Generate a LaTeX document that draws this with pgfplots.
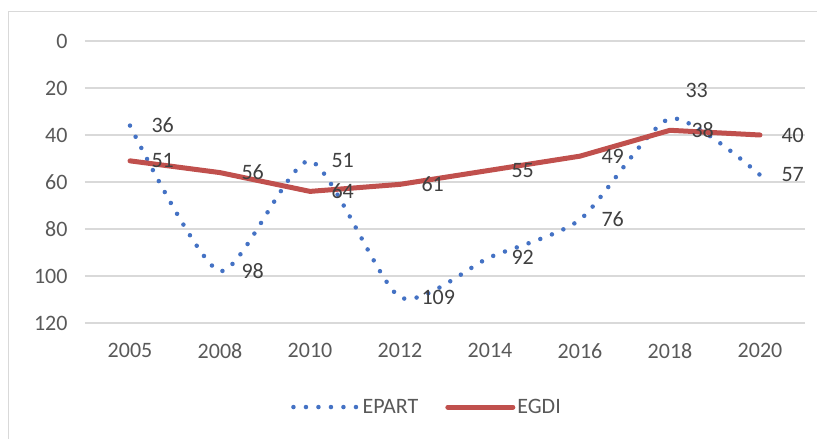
\documentclass[border=0pt]{standalone}
\usepackage{pgfplots}
\pgfplotsset{compat=1.18}
\usepackage{fontspec}
\setmainfont{Carlito}
\definecolor{epart}{HTML}{4472C4}
\definecolor{egdi}{HTML}{C0504D}
\definecolor{gridc}{HTML}{D9D9D9}
\definecolor{txt}{HTML}{595959}
\definecolor{lbl}{HTML}{404040}
\begin{document}
\begin{tikzpicture}[x=1pt,y=1pt]
\useasboundingbox (-85,-116) rectangle (732,323);
\draw[gridc, line width=1pt] (-76,-140) rectangle (760,311);
\begin{axis}[at={(0,0)}, anchor=south west, scale only axis, width=720pt, height=282pt,
 xmin=-0.5, xmax=7.5, ymin=0, ymax=120, y dir=reverse,
 xtick={0,...,7}, xticklabels={2005,2008,2010,2012,2014,2016,2018,2020},
 ytick={0,20,...,120},
 axis line style={draw=none}, major tick style={draw=none},
 ymajorgrids, grid style={gridc, line width=1.2pt},
 tick label style={font=\fontsize{22}{26}\selectfont, text=txt},
 /pgf/number format/assume math mode=true,
 xticklabel style={yshift=-17pt}, yticklabel style={xshift=-14pt},
 clip=false,
 legend style={at={(0.475,-0.298)}, anchor=center, draw=none, fill=none, legend columns=2,
   font=\fontsize{22}{26}\selectfont, text=txt,
   /tikz/every even column/.append style={column sep=25pt}},
 legend image code/.code={\draw[#1] (0pt,0pt) -- (65pt,0pt);},
 every node near coord/.append style={font=\fontsize{22}{26}\selectfont, text=lbl, anchor=west, xshift=18pt},
]
\addplot[epart, smooth, tension=0.4, line width=4.5pt, line cap=round, dash pattern=on 0pt off 12.5pt]
 coordinates {(0,36) (1,98) (2,51) (3,109) (4,92) (5,76) (6,33) (7,57)};
\addlegendentry{EPART}
\addplot[egdi, line width=5pt, line cap=round, line join=round]
 coordinates {(0,51) (1,56) (2,64) (3,61) (4,55) (5,49) (6,38) (7,40)};
\addlegendentry{EGDI}
\addplot[draw=none, forget plot, nodes near coords]
 coordinates {(0,36) (1,98) (2,51) (3,109) (4,92) (5,76) (7,57)};
\addplot[draw=none, forget plot, nodes near coords, every node near coord/.append style={xshift=-6pt, yshift=28pt}]
 coordinates {(6,33)};
\addplot[draw=none, forget plot, nodes near coords]
 coordinates {(0,51) (1,56) (2,64) (3,61) (4,55) (5,49) (6,38) (7,40)};
\end{axis}
\end{tikzpicture}
\end{document}
